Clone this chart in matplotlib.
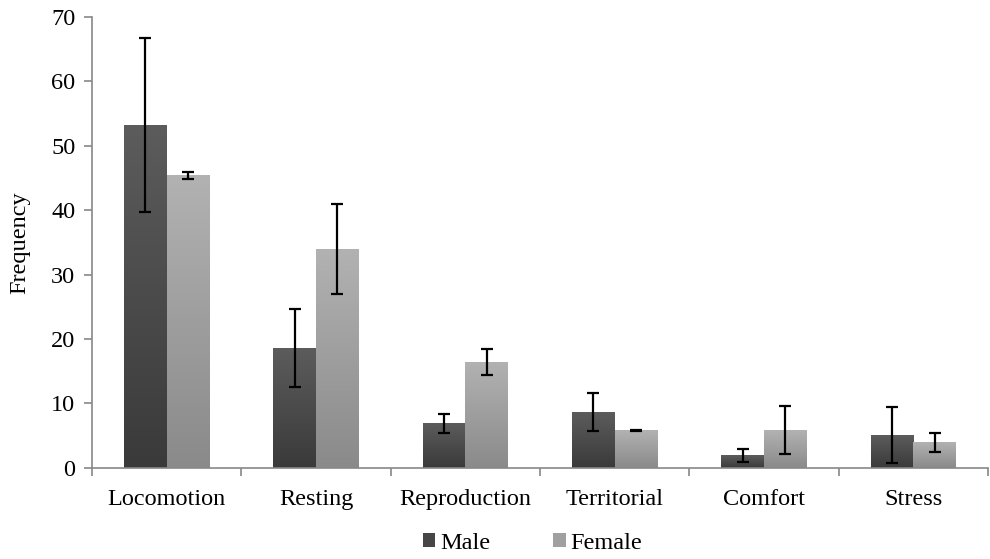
import numpy as np
import matplotlib
matplotlib.use("Agg")
import matplotlib.pyplot as plt
from matplotlib.patches import Patch
from matplotlib.colors import LinearSegmentedColormap

categories = ["Locomotion", "Resting", "Reproduction", "Territorial", "Comfort", "Stress"]
male = [53.2, 18.6, 6.9, 8.65, 1.9, 5.1]
male_err = [13.5, 6.1, 1.45, 2.9, 1.0, 4.3]
female = [45.4, 33.95, 16.4, 5.85, 5.85, 3.9]
female_err = [0.5, 7.0, 2.05, 0.05, 3.7, 1.5]
yticks = [0, 10, 20, 30, 40, 50, 60, 70]

plt.rcParams['font.family'] = ['Liberation Serif', 'DejaVu Serif']
FS = 17.5

fig = plt.figure(figsize=(9.9, 5.59), dpi=100)
ax = fig.add_axes([0.093, 0.163, 0.905, 0.807])

x = np.arange(len(categories))
w = 0.287
male_cmap = LinearSegmentedColormap.from_list("m", ["#5c5c5c", "#3a3a3a"])
fem_cmap = LinearSegmentedColormap.from_list("f", ["#b2b2b2", "#8a8a8a"])
grad = np.linspace(0, 1, 256).reshape(-1, 1)

def gbars(xs, vals, cmap):
    bars = ax.bar(xs, vals, width=w, color='none', edgecolor='none')
    for b in bars:
        x0, y0 = b.get_x(), b.get_y()
        bw, bh = b.get_width(), b.get_height()
        ax.imshow(grad, cmap=cmap, aspect='auto',
                  extent=[x0, x0 + bw, y0, y0 + bh], origin='upper', zorder=1)
    return bars

gbars(x - w / 2, male, male_cmap)
gbars(x + w / 2, female, fem_cmap)
ax.errorbar(x - w / 2, male, yerr=male_err, fmt='none', ecolor='black',
            elinewidth=1.6, capsize=4.5, capthick=1.6, zorder=3)
ax.errorbar(x + w / 2, female, yerr=female_err, fmt='none', ecolor='black',
            elinewidth=1.6, capsize=4.5, capthick=1.6, zorder=3)

ax.set_xlim(-0.5, 5.49)
ax.set_ylim(0, 70)
ax.set_yticks(yticks)
ax.set_yticklabels([str(t) for t in yticks], fontsize=FS)
ax.set_xticks(np.arange(-0.5, 5.6, 1.0))
ax.set_xticklabels([])
ax.set_xticks(x, minor=True)
ax.set_xticklabels(categories, minor=True, fontsize=FS)
ax.tick_params(axis='x', which='minor', length=0, pad=15)
ax.tick_params(axis='x', which='major', length=6, color='#888888', width=1.2)
ax.tick_params(axis='y', length=6, color='#888888', width=1.2, pad=6)

for s in ['top', 'right']:
    ax.spines[s].set_visible(False)
for s in ['left', 'bottom']:
    ax.spines[s].set_color('#888888')
    ax.spines[s].set_linewidth(1.2)

ax.set_ylabel("Frequency", fontsize=FS, labelpad=15)

handles = [Patch(facecolor='#464646', label='Male'),
           Patch(facecolor='#a0a0a0', label='Female')]
fig.legend(handles=handles, loc='lower center', bbox_to_anchor=(0.538, -0.03),
           ncol=2, frameon=False, fontsize=FS, handlelength=0.5, handleheight=0.5,
           handletextpad=0.2, columnspacing=2.6)

fig.savefig("out.png", dpi=100)
